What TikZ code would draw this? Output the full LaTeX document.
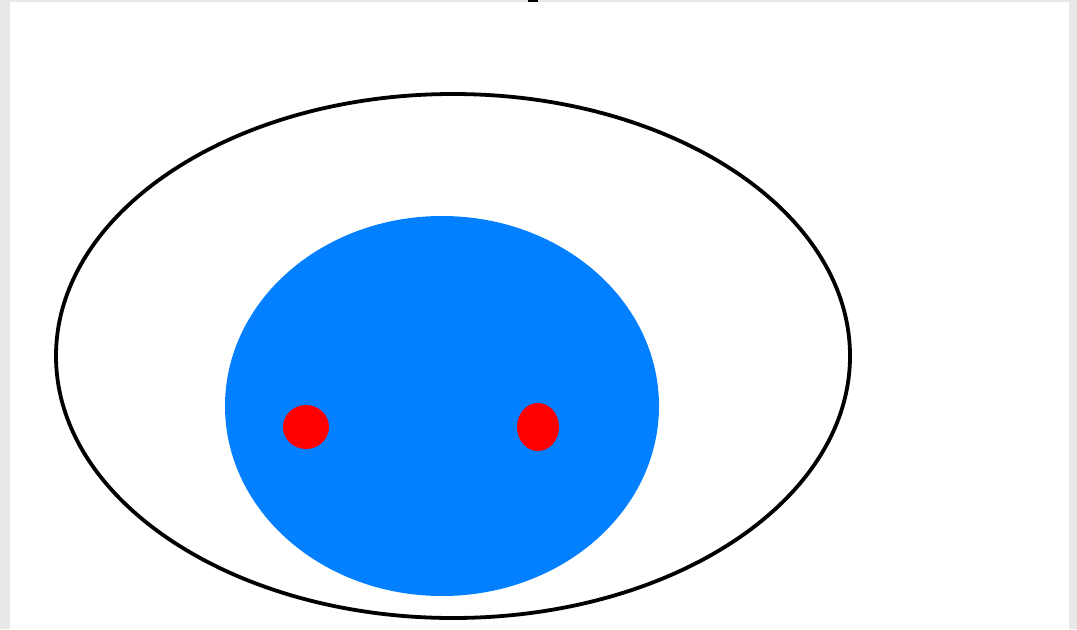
\documentclass[tikz,border=0pt]{standalone}
\usepackage{tikz}
\usepackage{xcolor}
\definecolor{pageframe}{RGB}{232, 232, 232}
\definecolor{eyeblue}{RGB}{2, 128, 255}
\definecolor{dotred}{RGB}{255, 0, 0}

\begin{document}
\begin{tikzpicture}[x=0.02cm, y=-0.02cm]
    \useasboundingbox (0, 0) rectangle (1077, 629);
    \fill[pageframe] (0, 0) rectangle (1077, 629);
    \fill[white] (10, 2) rectangle (1069, 629);
    \fill[black] (528, 0) rectangle (538, 2);
    \draw[black, line width=3.8*0.02cm] (453, 356) ellipse [x radius=397, y radius=262];
    \fill[eyeblue] (442, 406) ellipse [x radius=217, y radius=190];
    \fill[dotred] (306, 427) ellipse [x radius=23, y radius=22];
    \fill[dotred] (538, 427) ellipse [x radius=21, y radius=24];
  \end{tikzpicture}
\end{document}
